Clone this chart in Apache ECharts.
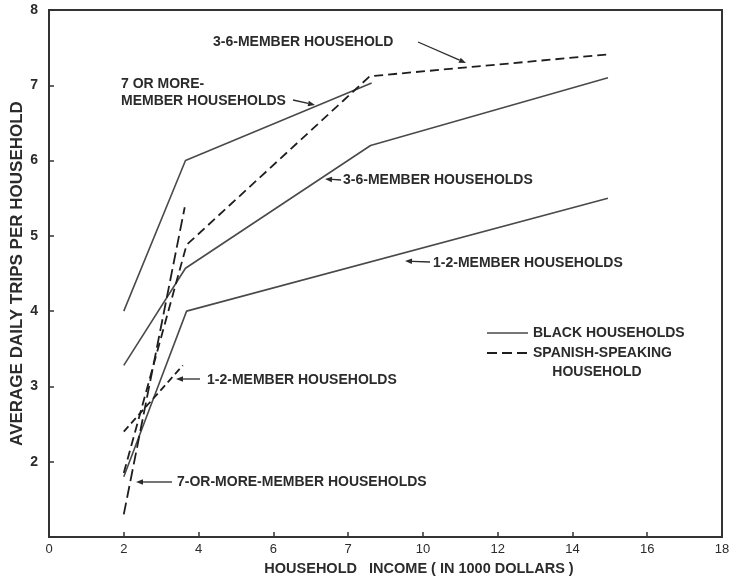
<!DOCTYPE html>
<html>
<head>
<meta charset="utf-8">
<script src="https://cdn.jsdelivr.net/npm/echarts@6/dist/echarts.min.js"></script>
<style>
  html, body { margin: 0; padding: 0; background: #ffffff; }
  #chart { width: 729px; height: 583px; }
</style>
</head>
<body>
<div id="chart"></div>
<script>
// Income tick labels as printed on the axis (one per 2-unit tick)
const incomeTickLabels = ['0', '2', '4', '6', '7', '10', '12', '14', '16', '18'];

// Black households: [income (1000 $), average daily trips]
const black7Plus = [[2, 4.0], [3.65, 6.0], [8.63, 7.03]];
const black3to6 = [[2, 3.28], [3.65, 4.57], [8.6, 6.2], [14.95, 7.1]];
const black1to2 = [[2, 1.8], [3.68, 4.0], [14.95, 5.5]];

// Spanish-speaking households
const spanish3to6 = [[2, 1.85], [3.68, 4.88], [8.58, 7.12], [14.95, 7.41]];
const spanish1to2 = [[2, 2.4], [3.58, 3.28]];
const spanish7Plus = [[2, 1.3], [3.63, 5.38]];

const FONT = '"Liberation Sans", Arial, sans-serif';
const INK = '#2b2b2b';

function solid(name, data) {
  return {
    name: name, type: 'line', data: data, symbol: 'none', silent: true,
    lineStyle: { color: '#4a4a4a', width: 1.6 }
  };
}
function dashed(name, data, dash) {
  return {
    name: name, type: 'line', data: data, symbol: 'none', silent: true,
    lineStyle: { color: '#1e1e1e', width: 1.8, type: dash }
  };
}

// Leader line with a small filled arrowhead at its end
function arrow(x1, y1, x2, y2) {
  const dx = x2 - x1, dy = y2 - y1;
  const len = Math.sqrt(dx * dx + dy * dy);
  const ux = dx / len, uy = dy / len;
  const hl = 7, hw = 2.8;
  const bx = x2 - ux * hl, by = y2 - uy * hl;
  return [
    { type: 'line', shape: { x1: x1, y1: y1, x2: bx, y2: by },
      style: { stroke: INK, lineWidth: 1.3 } },
    { type: 'polygon',
      shape: { points: [[x2, y2], [bx - uy * hw, by + ux * hw], [bx + uy * hw, by - ux * hw]] },
      style: { fill: INK } }
  ];
}

function label(text, x, y, opts) {
  return {
    type: 'text', x: x, y: y,
    style: Object.assign({
      text: text, fill: INK, font: 'bold 14px ' + FONT,
      textVerticalAlign: 'middle', textAlign: 'left'
    }, opts || {})
  };
}

const graphics = [].concat(
  [label('3-6-MEMBER HOUSEHOLD', 213, 42)], arrow(418, 42, 466, 63),
  [label('7 OR MORE-', 121, 84), label('MEMBER HOUSEHOLDS', 121, 101)], arrow(293, 100, 315, 105),
  [label('3-6-MEMBER HOUSEHOLDS', 343, 180)], arrow(341, 180, 325, 179),
  [label('1-2-MEMBER HOUSEHOLDS', 433, 263)], arrow(430, 262, 405, 261),
  [label('1-2-MEMBER HOUSEHOLDS', 207, 380)], arrow(200, 379, 176, 379),
  [label('7-OR-MORE-MEMBER HOUSEHOLDS', 177, 482)], arrow(172, 482, 136, 482),
  // key
  [
    { type: 'line', shape: { x1: 487, y1: 333, x2: 528, y2: 333 }, style: { stroke: '#4a4a4a', lineWidth: 1.6 } },
    label('BLACK HOUSEHOLDS', 533, 333),
    { type: 'line', shape: { x1: 487, y1: 353, x2: 528, y2: 353 }, style: { stroke: '#1e1e1e', lineWidth: 1.8, lineDash: [10, 5] } },
    label('SPANISH-SPEAKING', 533, 353),
    label('HOUSEHOLD', 597, 372, { textAlign: 'center' }),
    // horizontal axis title
    label('HOUSEHOLD   INCOME ( IN 1000 DOLLARS )', 419, 569, { textAlign: 'center', font: 'bold 14.5px ' + FONT })
  ]
);

const chart = echarts.init(document.getElementById('chart'), null, { renderer: 'canvas' });
chart.setOption({
  animation: false,
  backgroundColor: '#ffffff',
  grid: {
    left: 49, right: 7, top: 10, bottom: 46,
    outerBoundsMode: 'none', containLabel: false,
    show: true, borderColor: '#333', borderWidth: 2, backgroundColor: 'transparent'
  },
  xAxis: {
    type: 'value', min: 0, max: 18, interval: 2,
    axisLine: { show: true, lineStyle: { color: '#333', width: 2 } },
    axisTick: { show: true, inside: true, length: 5, lineStyle: { color: '#333', width: 1.5 } },
    axisLabel: {
      color: INK, fontFamily: FONT, fontSize: 13, margin: 6,
      formatter: function (v) { return incomeTickLabels[Math.round(v / 2)]; }
    },
    splitLine: { show: false }
  },
  yAxis: {
    type: 'value', min: 1, max: 8, interval: 1,
    name: 'AVERAGE DAILY TRIPS PER HOUSEHOLD',
    nameLocation: 'middle', nameGap: 23, nameMoveOverlap: false,
    nameTextStyle: { color: INK, fontFamily: FONT, fontWeight: 'bold', fontSize: 17 },
    axisLine: { show: true, lineStyle: { color: '#333', width: 2 } },
    axisTick: { show: true, inside: true, length: 5, lineStyle: { color: '#333', width: 1.5 } },
    axisLabel: {
      color: INK, fontFamily: FONT, fontWeight: 'bold', fontSize: 14, margin: 11,
      formatter: function (v) { return v === 1 ? '' : String(v); }
    },
    splitLine: { show: false }
  },
  series: [
    solid('BLACK HOUSEHOLDS 7+', black7Plus),
    solid('BLACK HOUSEHOLDS 3-6', black3to6),
    solid('BLACK HOUSEHOLDS 1-2', black1to2),
    dashed('SPANISH-SPEAKING 3-6', spanish3to6, [9, 5]),
    dashed('SPANISH-SPEAKING 1-2', spanish1to2, [7, 4]),
    dashed('SPANISH-SPEAKING 7+', spanish7Plus, [12, 5])
  ],
  graphic: graphics
});
</script>
</body>
</html>
